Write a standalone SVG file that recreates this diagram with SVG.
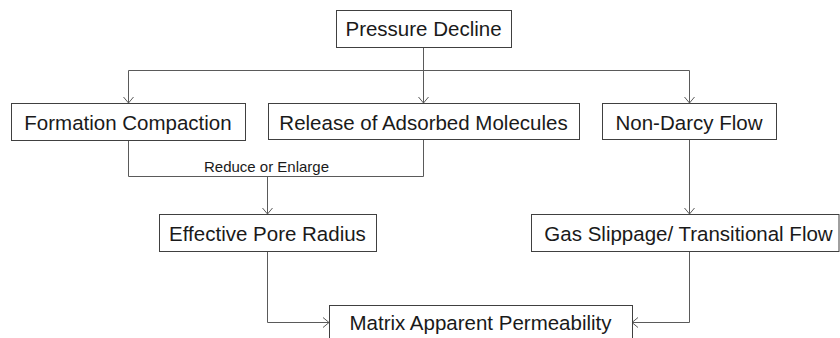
<svg xmlns="http://www.w3.org/2000/svg" width="840" height="338" viewBox="0 0 840 338">
<style>
.box{fill:#fff;stroke:#404040;stroke-width:1}
.lbl{font-family:"Liberation Sans",Arial,sans-serif;font-size:20.5px;fill:#1a1a1a;text-anchor:middle}
.small{font-family:"Liberation Sans",Arial,sans-serif;font-size:15px;fill:#1a1a1a;text-anchor:middle}
.conn{fill:none;stroke:#5a5a5a;stroke-width:1}
</style>
<defs>
<marker id="arr" markerUnits="userSpaceOnUse" markerWidth="12" markerHeight="12" refX="8" refY="6" orient="auto">
<path d="M2,1 L8,6 L2,11" fill="none" stroke="#5a5a5a" stroke-width="1"/>
</marker>
</defs>
<rect width="840" height="338" fill="#fff"/>
<g id="connectors">
<path class="conn" d="M423.5,47 V103" marker-end="url(#arr)"/>
<path class="conn" d="M423.5,70.5 H128.5 V103" marker-end="url(#arr)"/>
<path class="conn" d="M423.5,70.5 H689.5 V103" marker-end="url(#arr)"/>
<path class="conn" d="M128.5,140 V176.5 H423.5 V139"/>
<path class="conn" d="M267.5,176.5 V214" marker-end="url(#arr)"/>
<path class="conn" d="M689.5,139 V214" marker-end="url(#arr)"/>
<path class="conn" d="M267.5,251 V322.5 H329" marker-end="url(#arr)"/>
<path class="conn" d="M689.5,251 V322.5 H632" marker-end="url(#arr)"/>
<text class="small" x="266.5" y="172">Reduce or Enlarge</text>
</g>
<g id="pressure-decline">
<rect class="box" x="336.5" y="10.5" width="175" height="37"/>
<text class="lbl" x="423.5" y="35.5">Pressure Decline</text>
</g>
<g id="formation-compaction">
<rect class="box" x="11.5" y="103.5" width="234" height="37"/>
<text class="lbl" x="128" y="129.5">Formation Compaction</text>
</g>
<g id="release-adsorbed">
<rect class="box" x="268.5" y="103.5" width="311" height="36"/>
<text class="lbl" x="423.5" y="129.5">Release of Adsorbed Molecules</text>
</g>
<g id="non-darcy">
<rect class="box" x="602.5" y="103.5" width="174" height="36"/>
<text class="lbl" x="689" y="129.5">Non-Darcy Flow</text>
</g>
<g id="effective-pore-radius">
<rect class="box" x="159.5" y="214.5" width="217" height="37"/>
<text class="lbl" x="267.5" y="240.5">Effective Pore Radius</text>
</g>
<g id="gas-slippage">
<rect class="box" x="531.5" y="214.5" width="307.5" height="37"/>
<text class="lbl" x="688.5" y="240.5">Gas Slippage/ Transitional Flow</text>
</g>
<g id="matrix-permeability">
<rect class="box" x="329.5" y="305.5" width="303" height="40"/>
<text class="lbl" x="480.5" y="330">Matrix Apparent Permeability</text>
</g>
</svg>
